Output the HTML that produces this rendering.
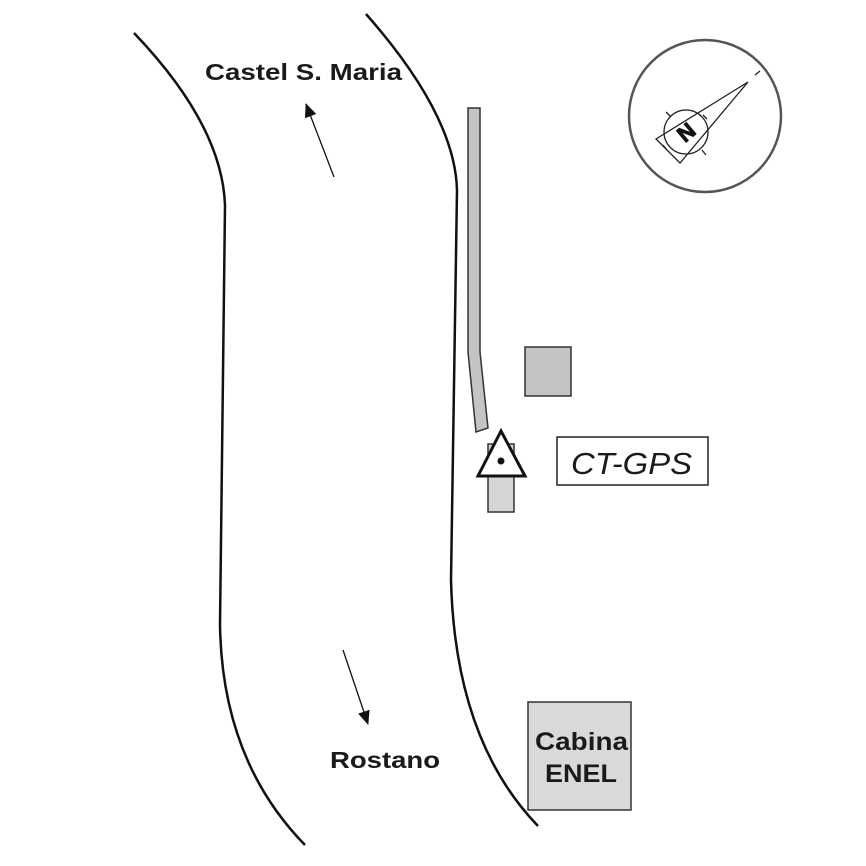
<!DOCTYPE html>
<html><head><style>body{margin:0;background:#fff}svg{display:block}</style></head><body>
<svg width="866" height="866" viewBox="0 0 866 866" xmlns="http://www.w3.org/2000/svg">
<defs><marker id="ah" markerWidth="14" markerHeight="14" refX="13" refY="6" orient="auto" markerUnits="userSpaceOnUse" viewBox="0 0 14 12"><path d="M0,0 L14,6 L0,12 z" fill="#111"/></marker></defs>
<g fill="none" stroke="#111" stroke-width="2.5">
<path d="M134,33 Q222,125 225,205 L220,625 Q222,760 305,845"/>
<path d="M366,14 Q455,115 457,190 L451,580 Q455,740 538,826"/>
</g>
<line x1="334" y1="177" x2="306" y2="104" stroke="#111" stroke-width="1.3" marker-end="url(#ah)"/>
<line x1="343" y1="650" x2="368" y2="724" stroke="#111" stroke-width="1.3" marker-end="url(#ah)"/>
<text x="205" y="80" textLength="197" lengthAdjust="spacingAndGlyphs" font-family="Liberation Sans, sans-serif" font-weight="bold" font-size="23" fill="#1a1a1a">Castel S. Maria</text>
<text x="330" y="768" textLength="110" lengthAdjust="spacingAndGlyphs" font-family="Liberation Sans, sans-serif" font-weight="bold" font-size="23" fill="#1a1a1a">Rostano</text>
<path d="M468,108 L480,108 L480,352 L488,428 L476,432 L468,352 Z" fill="#c4c4c4" stroke="#333" stroke-width="1.5"/>
<rect x="525" y="347" width="46" height="49" fill="#c4c4c4" stroke="#333" stroke-width="1.5"/>
<rect x="488" y="444" width="26" height="68" fill="#d6d6d6" stroke="#333" stroke-width="1.5"/>
<path d="M501,431 L478,476 L525,476 Z" fill="#fff" stroke="#111" stroke-width="3" stroke-linejoin="miter"/>
<circle cx="501" cy="461" r="3.5" fill="#111"/>
<rect x="557" y="437" width="151" height="48" fill="#fff" stroke="#222" stroke-width="1.5"/>
<text x="571" y="474" textLength="121" lengthAdjust="spacingAndGlyphs" font-family="Liberation Sans, sans-serif" font-style="italic" font-size="31" fill="#1a1a1a">CT-GPS</text>
<rect x="528" y="702" width="103" height="108" fill="#d9d9d9" stroke="#333" stroke-width="1.5"/>
<text x="535" y="750" textLength="93" lengthAdjust="spacingAndGlyphs" font-family="Liberation Sans, sans-serif" font-weight="bold" font-size="25" fill="#1a1a1a">Cabina</text>
<text x="545" y="782" textLength="72" lengthAdjust="spacingAndGlyphs" font-family="Liberation Sans, sans-serif" font-weight="bold" font-size="25" fill="#1a1a1a">ENEL</text>
<circle cx="705" cy="116" r="76" fill="none" stroke="#555" stroke-width="2.5"/>
<g stroke="#222" stroke-width="1.3" fill="none">
<path d="M656,139 L748,82 L680,163 Z"/>
<circle cx="686" cy="132" r="22"/>
<line x1="755" y1="75" x2="760" y2="71"/>
<line x1="666" y1="112" x2="671" y2="117"/>
<line x1="703" y1="115" x2="707" y2="119"/>
<line x1="702" y1="150" x2="706" y2="155"/>
<line x1="663" y1="145" x2="667" y2="150"/>
</g>
<text x="686" y="140" font-family="Liberation Sans, sans-serif" font-weight="bold" font-size="22" text-anchor="middle" fill="#111" stroke="#111" stroke-width="1" transform="rotate(-40 686 132)">N</text>
</svg>
</body></html>
